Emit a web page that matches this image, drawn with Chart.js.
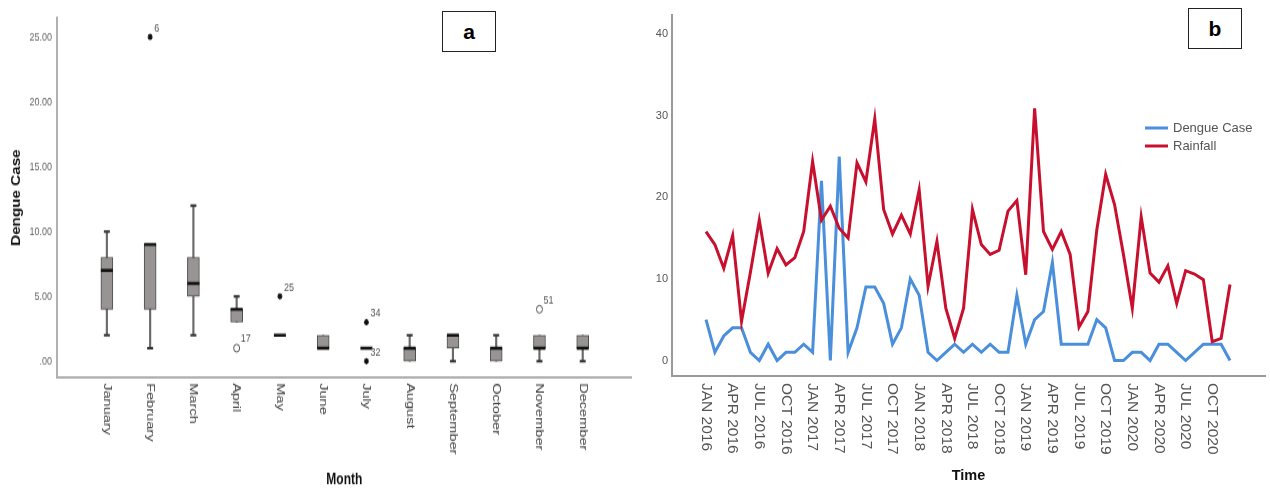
<!DOCTYPE html>
<html>
<head>
<meta charset="utf-8">
<script src="https://cdn.jsdelivr.net/npm/chart.js@4.4.1/dist/chart.umd.min.js"></script>
<style>
  html, body { margin: 0; padding: 0; background: #fff; }
  body { width: 1270px; height: 488px; position: relative; overflow: hidden;
         font-family: "Liberation Sans", Arial, sans-serif; }
  /* panel a is drawn on a shorter canvas and stretched vertically */
  #wrapA { position: absolute; left: 0; top: 0; width: 640px; height: 384px;
           transform: scaleY(1.2708); transform-origin: 0 0; }
  #wrapB { position: absolute; left: 640px; top: 0; width: 630px; height: 488px; }
  .tag { position: absolute; width: 54px; height: 41px; box-sizing: border-box;
         border: 1.5px solid #222; background: #fff; color: #000;
         font-weight: bold; font-size: 21px; display: flex;
         align-items: center; justify-content: center; }
</style>
</head>
<body>
<div id="wrapA"><canvas id="boxChart" width="640" height="384"></canvas></div>
<div id="wrapB"><canvas id="lineChart" width="630" height="488"></canvas></div>
<div class="tag" style="left:442px;top:11px;">a</div>
<div class="tag" style="left:1188px;top:8px;">b</div>

<script>
// ---------- panel a: dengue cases by month (box plot) ----------
const months = ['January', 'February', 'March', 'April', 'May', 'June',
                'July', 'August', 'September', 'October', 'November', 'December'];
const whiskerLow  = [2, 1, 2, 3, 2, 1, 1, 0, 0, 0, 0, 0];
const quartile1   = [4, 4, 5, 3, 2, 1, 1, 0, 1, 0, 1, 1];
const medianCases = [7, 9, 6, 4, 2, 1, 1, 1, 2, 1, 1, 1];
const quartile3   = [8, 9, 8, 4, 2, 2, 1, 1, 2, 1, 2, 2];
const whiskerHigh = [10, 9, 12, 5, 2, 2, 1, 2, 2, 2, 2, 2];

const outlierMonth = [1, 3, 4, 6, 6, 10];
const outlierValue = [25, 1, 5, 3, 0, 4];
const outlierCase  = ['6', '17', '25', '34', '32', '51'];
const outlierKind  = ['star', 'circle', 'star', 'star', 'star', 'circle'];

const yTicksA = [0, 5, 10, 15, 20, 25];

// ---------- panel b: monthly dengue cases and rainfall, 2016-2020 ----------
const dengueCases = [5, 1, 3, 4, 4, 1, 0, 2, 0, 1, 1, 2,
                     1, 22, 0, 25, 1, 4, 9, 9, 7, 2, 4, 10,
                     8, 1, 0, 1, 2, 1, 2, 1, 2, 1, 1, 8,
                     2, 5, 6, 12, 2, 2, 2, 2, 5, 4, 0, 0,
                     1, 1, 0, 2, 2, 1, 0, 1, 2, 2, 2, 0];
const rainfall = [15.8, 14.2, 11.3, 15.3, 4.8, 10.8, 17.2, 10.7, 13.7, 11.7, 12.6, 15.8,
                  24.4, 17.2, 18.9, 16.2, 15.0, 24.2, 21.9, 29.6, 18.5, 15.5, 17.8, 15.5,
                  20.9, 9.1, 14.6, 6.4, 2.7, 6.4, 18.5, 14.2, 13.0, 13.5, 18.3, 19.6,
                  10.5, 30.9, 15.8, 13.6, 15.8, 13.0, 4.1, 6.0, 16.0, 22.8, 19.1, 13.0,
                  6.4, 17.6, 10.7, 9.6, 11.6, 7.0, 11.0, 10.6, 9.9, 2.3, 2.7, 9.3];
const timeTickIndex = [0, 3, 6, 9, 12, 15, 18, 21, 24, 27, 30, 33, 36, 39, 42, 45, 48, 51, 54, 57];
const timeTickLabels = ['JAN 2016', 'APR 2016', 'JUL 2016', 'OCT 2016', 'JAN 2017', 'APR 2017',
                        'JUL 2017', 'OCT 2017', 'JAN 2018', 'APR 2018', 'JUL 2018', 'OCT 2018',
                        'JAN 2019', 'APR 2019', 'JUL 2019', 'OCT 2019', 'JAN 2020', 'APR 2020',
                        'JUL 2020', 'OCT 2020'];
const yTicksB = [0, 10, 20, 30, 40];

const FONT = '"Liberation Sans", Arial, sans-serif';
Chart.defaults.font.family = FONT;
Chart.defaults.animation = false;

// category labels on the x axis, turned a quarter clockwise so they read downwards
function downwardLabels(values, labels, gap, font, color) {
  return {
    id: 'downwardLabels',
    afterDraw(chart) {
      const { ctx } = chart;
      const sx = chart.scales.x;
      ctx.save();
      ctx.font = font;
      ctx.fillStyle = color;
      ctx.textAlign = 'left';
      ctx.textBaseline = 'middle';
      values.forEach((v, i) => {
        ctx.save();
        ctx.translate(sx.getPixelForValue(v), sx.top + gap);
        ctx.rotate(Math.PI / 2);
        ctx.fillText(labels[i], 0, 0);
        ctx.restore();
      });
      ctx.restore();
    }
  };
}

// case numbers written beside the outlying points
const outlierNumbers = {
  id: 'outlierNumbers',
  afterDatasetsDraw(chart) {
    const { ctx } = chart;
    const sx = chart.scales.x, sy = chart.scales.y;
    ctx.save();
    ctx.font = '9px ' + FONT;
    ctx.fillStyle = '#555';
    ctx.textAlign = 'left';
    ctx.textBaseline = 'middle';
    outlierMonth.forEach((m, i) => {
      ctx.fillText(outlierCase[i], sx.getPixelForValue(m) + 4, sy.getPixelForValue(outlierValue[i]) - 7);
    });
    ctx.restore();
  }
};

// ---- panel a datasets ----
const whiskerData = months.map((_, i) => ({ x: i, y: [whiskerLow[i], whiskerHigh[i]] }));
const boxData = months.map((_, i) => ({ x: i, y: [quartile1[i], quartile3[i]] }));
const medianData = months.map((_, i) => ({ x: i, y: medianCases[i] }));
const capData = [];
months.forEach((_, i) => {
  if (whiskerHigh[i] > quartile3[i]) capData.push({ x: i, y: whiskerHigh[i] });
  if (whiskerLow[i] < quartile1[i]) capData.push({ x: i, y: whiskerLow[i] });
});
const outlierData = outlierMonth.map((m, i) => ({ x: m, y: outlierValue[i] }));

new Chart(document.getElementById('boxChart'), {
  type: 'bar',
  data: {
    datasets: [
      { type: 'bar', data: whiskerData, grouped: false, barThickness: 1.5,
        backgroundColor: '#6a6a6a', borderWidth: 0, order: 4 },
      { type: 'bar', data: boxData, grouped: false, barThickness: 12,
        backgroundColor: '#999494', borderColor: '#4d4d4d', borderWidth: 1,
        borderSkipped: false, order: 3 },
      { type: 'scatter', data: capData, pointStyle: 'line', pointRadius: 3,
        pointBorderWidth: 2, borderColor: '#333', order: 2 },
      { type: 'scatter', data: medianData, pointStyle: 'line', pointRadius: 6,
        pointBorderWidth: 2.4, borderColor: '#111', order: 1 },
      { type: 'scatter', data: outlierData, pointStyle: outlierKind,
        pointRadius: outlierKind.map(k => k === 'star' ? 2.5 : 3),
        pointBorderWidth: outlierKind.map(k => k === 'star' ? 1.3 : 1),
        borderColor: outlierKind.map(k => k === 'star' ? '#111' : '#555'),
        backgroundColor: 'rgba(0,0,0,0)', order: 0 }
    ]
  },
  options: {
    responsive: false,
    devicePixelRatio: 1,
    events: [],
    layout: { padding: { top: 14, right: 7, bottom: 0, left: 0 } },
    plugins: { legend: { display: false }, tooltip: { enabled: false } },
    scales: {
      x: {
        type: 'linear', min: -1.153, max: 12.13, offset: false,
        grid: { display: false, drawTicks: false },
        border: { display: true, color: '#b0b0b0', width: 2 },
        ticks: { display: false },
        title: { display: true, text: 'Month', color: '#111',
                 font: { size: 12, weight: 'bold', lineHeight: 1 }, padding: { top: 0, bottom: 0 } },
        afterFit(scale) { scale.height = 87; }
      },
      y: {
        type: 'linear', min: -1.26, max: 26.48,
        grid: { display: false, drawTicks: false },
        border: { display: true, color: '#b0b0b0', width: 2 },
        ticks: { padding: 5, color: '#666', font: { size: 9 },
                 callback: v => v === 0 ? '.00' : v.toFixed(2) },
        afterBuildTicks(scale) { scale.ticks = yTicksA.map(v => ({ value: v })); },
        title: { display: true, text: 'Dengue Case', color: '#111',
                 font: { size: 12, weight: 'bold', lineHeight: 1 }, padding: { top: 11, bottom: 0 } },
        afterFit(scale) { scale.width = 57; }
      }
    }
  },
  plugins: [outlierNumbers,
            downwardLabels(months.map((_, i) => i), months, 4.4, '11.5px ' + FONT, '#444')]
});

// ---- panel b ----
const seriesLegend = {
  id: 'seriesLegend',
  afterDraw(chart) {
    const { ctx } = chart;
    ctx.save();
    ctx.font = '13px ' + FONT;
    ctx.textAlign = 'left';
    ctx.textBaseline = 'middle';
    const rows = [chart.data.datasets[0], chart.data.datasets[1]];
    rows.forEach((ds, i) => {
      const y = 128 + i * 18;
      ctx.strokeStyle = ds.borderColor;
      ctx.lineWidth = 3;
      ctx.beginPath();
      ctx.moveTo(505, y);
      ctx.lineTo(528, y);
      ctx.stroke();
      ctx.fillStyle = '#555';
      ctx.fillText(ds.label, 533, y + 0.5);
    });
    ctx.restore();
  }
};

new Chart(document.getElementById('lineChart'), {
  type: 'line',
  data: {
    datasets: [
      { label: 'Dengue Case', data: dengueCases.map((v, i) => ({ x: i, y: v })),
        borderColor: '#4a8fdb', borderWidth: 3, pointRadius: 0, tension: 0, order: 1 },
      { label: 'Rainfall', data: rainfall.map((v, i) => ({ x: i, y: v })),
        borderColor: '#c8102e', borderWidth: 3, pointRadius: 0, tension: 0, order: 0 }
    ]
  },
  options: {
    responsive: false,
    devicePixelRatio: 1,
    events: [],
    layout: { padding: { top: 15, right: 5, bottom: 0, left: 0 } },
    plugins: { legend: { display: false }, tooltip: { enabled: false } },
    scales: {
      x: {
        type: 'linear', min: -3.83, max: 62.94, offset: false,
        grid: { display: false, drawTicks: false },
        border: { display: true, color: '#9a9a9a', width: 2 },
        ticks: { display: false },
        title: { display: true, text: 'Time', color: '#111',
                 font: { size: 14.5, weight: 'bold', lineHeight: 1 }, padding: { top: 0, bottom: 4.75 } },
        afterFit(scale) { scale.height = 112; }
      },
      y: {
        type: 'linear', min: -1.9, max: 42.33,
        grid: { display: false, drawTicks: false },
        border: { display: true, color: '#9a9a9a', width: 2 },
        ticks: { padding: 4, color: '#555', font: { size: 11 } },
        afterBuildTicks(scale) { scale.ticks = yTicksB.map(v => ({ value: v })); },
        afterFit(scale) { scale.width = 32; }
      }
    }
  },
  plugins: [seriesLegend,
            downwardLabels(timeTickIndex, timeTickLabels, 7, '15.5px ' + FONT, '#555')]
});
</script>
</body>
</html>
